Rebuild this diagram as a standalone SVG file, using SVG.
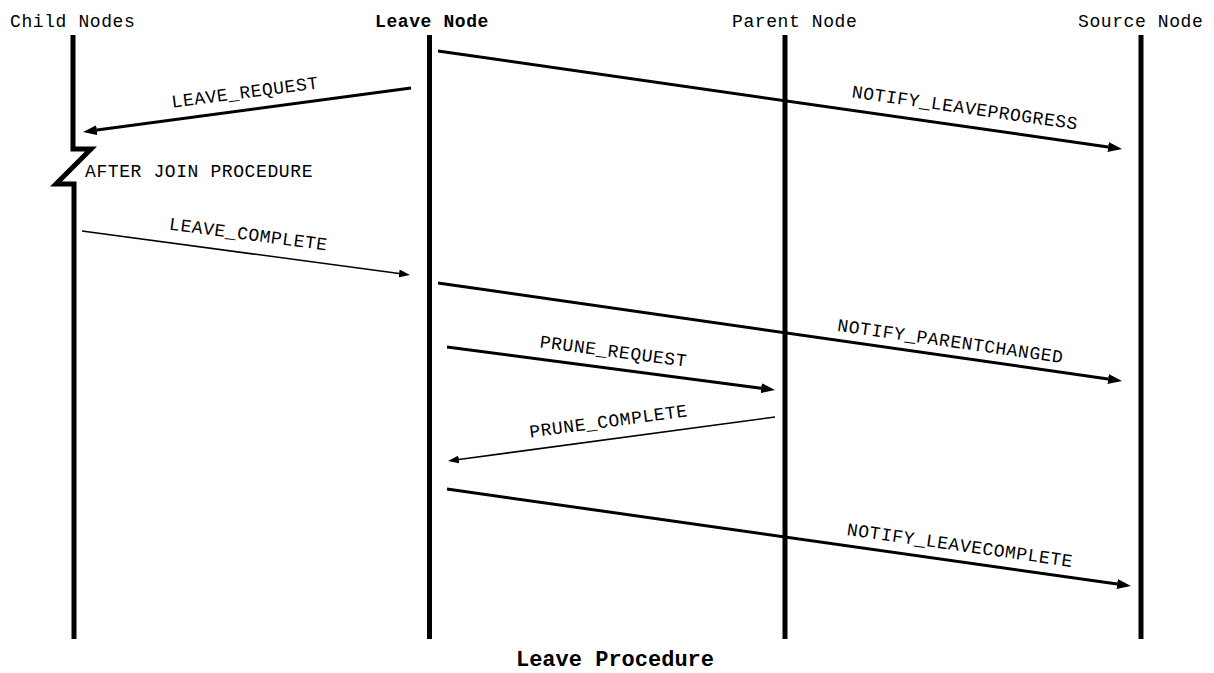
<svg xmlns="http://www.w3.org/2000/svg" width="1214" height="673" viewBox="0 0 1214 673">
  <style>
    .txt { font-family: "Liberation Mono", "Courier New", monospace; font-size: 18px; letter-spacing: 0.6px; fill: #000; }
    .bold { font-weight: bold; }
    .title { font-size: 22px; letter-spacing: 0; }
    .life { fill: none; stroke: #000; stroke-width: 5; stroke-linecap: butt; stroke-linejoin: miter; }
    .msg { stroke: #000; stroke-width: 3; fill: none; }
    .msg-thin { stroke: #000; stroke-width: 1.6; fill: none; }
  </style>
  <defs>
    <marker id="head" viewBox="0 0 14 10" refX="0" refY="5" markerWidth="14" markerHeight="10" markerUnits="userSpaceOnUse" orient="auto">
      <path d="M0,0 L14,5 L0,10 Z" fill="#000"/>
    </marker>
    <marker id="head-thin" viewBox="0 0 11 8" refX="0" refY="4" markerWidth="11" markerHeight="8" markerUnits="userSpaceOnUse" orient="auto">
      <path d="M0,0 L11,4 L0,8 Z" fill="#000"/>
    </marker>
  </defs>
  <rect width="1214" height="673" fill="#fff"/>

  <!-- lifelines -->
  <g id="child-nodes">
    <text class="txt" x="10" y="27">Child Nodes</text>
    <path class="life" d="M73,35 L73,149 L91,149 L56,184 L74,184 L74,639"/>
    <text class="txt" x="85" y="177">AFTER JOIN PROCEDURE</text>
  </g>
  <g id="leave-node">
    <text class="txt bold" x="375" y="27">Leave Node</text>
    <line class="life" x1="429.5" y1="35" x2="429.5" y2="639"/>
  </g>
  <g id="parent-node">
    <text class="txt" x="732" y="27">Parent Node</text>
    <line class="life" x1="785" y1="35" x2="785" y2="639"/>
  </g>
  <g id="source-node">
    <text class="txt" x="1078" y="27">Source Node</text>
    <line class="life" x1="1141" y1="35" x2="1141" y2="639"/>
  </g>

  <!-- messages -->
  <g id="connectors">
    <line class="msg" x1="411" y1="88" x2="96.9" y2="130.1" marker-end="url(#head)"/>
    <line class="msg" x1="438" y1="51" x2="1108.1" y2="147" marker-end="url(#head)"/>
    <line class="msg-thin" x1="82" y1="231" x2="399.1" y2="273.5" marker-end="url(#head-thin)"/>
    <line class="msg" x1="438" y1="283" x2="1108.1" y2="379" marker-end="url(#head)"/>
    <line class="msg" x1="447" y1="347" x2="761.1" y2="388.2" marker-end="url(#head)"/>
    <line class="msg-thin" x1="775" y1="417" x2="458.9" y2="459.5" marker-end="url(#head-thin)"/>
    <line class="msg" x1="447" y1="489" x2="1117.1" y2="584" marker-end="url(#head)"/>
  </g>

  <!-- message labels -->
  <g id="labels" text-anchor="middle">
    <text class="txt" transform="translate(245,92) rotate(-7.6)" y="6">LEAVE_REQUEST</text>
    <text class="txt" transform="translate(965,107.5) rotate(8.15)" y="6">NOTIFY_LEAVEPROGRESS</text>
    <text class="txt" transform="translate(248.5,234) rotate(7.6)" y="6">LEAVE_COMPLETE</text>
    <text class="txt" transform="translate(950.5,341) rotate(8.15)" y="6">NOTIFY_PARENTCHANGED</text>
    <text class="txt" transform="translate(613.5,351) rotate(7.5)" y="6">PRUNE_REQUEST</text>
    <text class="txt" transform="translate(608.5,421) rotate(-7.7)" y="6">PRUNE_COMPLETE</text>
    <text class="txt" transform="translate(960,545) rotate(8.1)" y="6">NOTIFY_LEAVECOMPLETE</text>
  </g>

  <text class="txt bold title" x="615" y="666" text-anchor="middle">Leave Procedure</text>
</svg>
